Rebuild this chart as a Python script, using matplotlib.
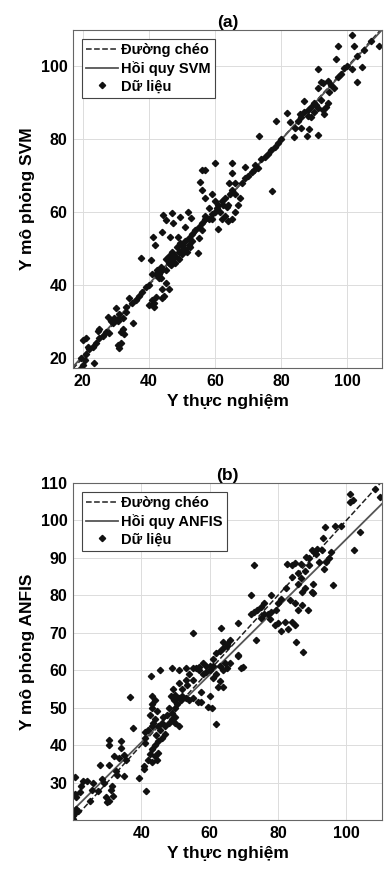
import matplotlib
matplotlib.use("Agg")
import matplotlib.pyplot as plt
import numpy as np

plt.rcParams["font.family"] = ["Liberation Sans", "DejaVu Sans"]
plt.rcParams["font.weight"] = "bold"

# panel (a): SVM
svm_pts = [
    (19.4, 17.2), (20, 18), (20.5, 19.5), (21, 21), (20, 25), (21.5, 23), (22, 22.5), (23.5, 18.7),
    (19.5, 20), (21, 25.4), (23, 23), (24, 24), (25, 25.5), (25, 28), (26, 26), (24.5, 27.5),
    (27, 27), (27.6, 31.3), (28, 26.8), (28.5, 30), (29, 29.5), (29.5, 31), (30, 30.5), (30.5, 30),
    (30, 33.7), (31, 32), (31, 31), (30.5, 23.5), (31, 22.7), (31.5, 24), (31.5, 27), (32, 28),
    (32.5, 26.5), (32, 31), (33, 32.7), (33, 34), (34.1, 36.3), (35.2, 29.6), (35, 35), (36, 36),
    (37, 37), (38, 38), (39, 39.5), (40, 40), (40, 34.5), (41, 36), (41.5, 35), (42, 36.7),
    (41.5, 34), (44, 36.5), (44.5, 37), (44, 39), (43.5, 42), (45, 40.5), (46, 39), (44, 44),
    (43, 43), (42, 43), (43, 42), (41, 43), (42.5, 44), (43.5, 45), (45, 44), (46, 46),
    (37.7, 47.3), (40.7, 46.8), (41.7, 51), (41.2, 53.2), (44, 54.6), (46.3, 53.2), (48.8, 53.2),
    (44.2, 59.2), (45.2, 57.8), (47.1, 59.8), (47.3, 57.1), (49.3, 58.7), (51.8, 60.1), (52.8, 58.3),
    (50.8, 56), (54.8, 48.7), (45, 47), (46, 48), (47, 47), (48, 48), (49, 49), (50, 49.5),
    (50, 51), (51, 50), (52, 51), (53, 52), (48, 46), (49, 47), (51, 52), (52, 53), (53, 54),
    (54, 55), (50, 48.5), (47, 49), (46.5, 45.5), (48.5, 50.5), (49.5, 51.5), (51.5, 49),
    (52.5, 50.5), (55, 56), (56, 57), (57, 58), (55, 53), (56, 55),
    (58, 58), (59, 59.5), (60, 60), (60.5, 61), (61, 62), (61.5, 60), (62, 63), (62.5, 62),
    (63, 64), (63.5, 61.5), (64, 62), (64.5, 65), (65, 66), (66, 65), (61, 55.5), (62, 58),
    (63, 59), (64, 57.5), (65, 58), (66, 60), (67, 62), (67.5, 64), (59, 58), (60, 63), (58, 61),
    (57, 59), (56, 66), (57, 64), (59, 65), (55.5, 68.3), (56, 71.5), (57, 71.5), (60, 73.4),
    (65, 73.4), (65, 70.7), (64.3, 68), (66, 68), (69, 72.3), (71.6, 71.5), (68, 68), (69, 69.5),
    (70, 70), (71, 71), (72, 73), (73, 72), (74, 74.5), (75, 75), (76, 76), (73.4, 80.8),
    (77.2, 65.7), (77, 77), (78, 78), (78.5, 85), (79, 79), (80, 80), (81.7, 87.2), (82.7, 84.7),
    (83.7, 80.6), (84, 83), (85, 85), (86, 83), (86, 86), (87, 87.5), (87.8, 80.8), (88, 88),
    (88.5, 82.7), (89, 89), (90, 90), (90, 87.5), (91, 88.5), (91, 81.2), (85.8, 87), (87, 90.5),
    (88, 86.5), (89, 86), (90.5, 89.5), (92, 90.7), (92.5, 88), (93, 87), (93.5, 89), (94, 90),
    (94.5, 93), (91, 94), (92, 95.6), (92.5, 95.4), (94, 96), (95, 95), (96, 94), (91.1, 99.4),
    (96.6, 102), (97.2, 105.5), (101.5, 108.5), (102, 105.5), (101.5, 99.3), (103, 95.7),
    (104.5, 99.8), (109.5, 105.7), (97, 97), (98, 98), (99, 99.5), (100, 100), (103, 103),
    (105, 104.5), (107, 107),
]

# panel (b): ANFIS
anfis_pts = [
    (20, 20.3), (20.5, 22), (21, 23), (21.5, 22.5), (20.3, 21.5), (20.5, 27), (20.5, 31.6), (21, 26),
    (22, 27.4), (22.5, 29), (23, 30.5), (24, 30.5), (25, 25), (25.5, 28), (26, 30), (27.3, 27.7),
    (27.8, 34.8), (28.5, 31), (29, 30), (29.8, 26), (30, 24.7), (30.5, 25), (30.5, 34.8), (31, 28),
    (31.5, 29), (31.7, 26.5), (30.6, 40), (30.6, 41.4), (32, 37), (32.5, 33), (33, 32),
    (33.5, 36.5), (34, 39.3), (34, 41), (35, 37.4), (35, 31.7), (35.6, 36), (36.8, 52.9),
    (37.5, 44.6), (39.4, 31.3), (40.8, 33.6), (40.8, 34.3), (41.5, 27.7), (41, 40.6), (41, 43.5),
    (41, 42), (42, 36), (42.5, 37.5), (43, 35.6), (44, 37), (44.5, 36), (45, 38), (44.4, 42.8),
    (42, 44), (43, 45), (43.5, 46), (44, 47), (42.5, 48), (43, 50), (43, 51), (42.7, 58.5),
    (45.4, 60), (43, 53), (44, 52), (44.5, 49), (45, 45), (45.5, 44), (46, 46), (46.5, 47.5),
    (47, 45), (47.5, 48), (48, 50), (48, 46), (49, 48.5), (49, 47), (50, 46), (50, 47.5), (51, 45),
    (49.5, 52), (48.8, 53), (50, 53.5), (51, 52.5), (51.5, 52), (52, 53), (53, 52.5), (54, 52),
    (55, 52.5), (56.7, 51.5), (49.4, 55), (51, 56.5), (53, 57.5), (55, 57.5), (57.5, 51.6),
    (57.5, 54.3), (59.5, 50.3), (60, 53), (60.6, 50), (61.8, 45.7), (49, 60.5), (51, 60),
    (53, 60.5), (55, 60.5), (57, 60.8), (58, 59), (59, 59.5), (60, 60), (61, 58), (62, 59), (63, 61),
    (64, 60), (64.5, 62), (65, 60.5), (62.5, 55.6), (64, 55.6), (63, 57), (61, 63), (62, 64.5),
    (63, 65), (64, 66), (65, 67), (66, 62), (68.4, 64), (69.8, 60.9), (55.2, 69.9), (63.4, 71.2),
    (64, 67.5), (65, 66.5), (66, 68), (68.4, 63.9), (69.3, 60.6), (68.4, 72.5), (73.6, 68),
    (72, 75), (73, 75.5), (74, 76), (75, 74), (76, 75), (77, 75), (78, 75.5), (79.5, 76),
    (77.7, 73.6), (79, 72), (80, 72.5), (81, 70.4), (82, 73), (85, 72), (83, 71), (84, 73),
    (85.3, 67.5), (87.4, 64.9), (83.6, 78.7), (85, 78), (86, 76), (87, 77.5), (88.8, 76),
    (82.4, 82), (85.8, 83), (87, 81), (88, 82), (90, 81), (90.3, 80.5), (90.3, 83), (73, 88),
    (82.7, 88.3), (84, 88.2), (85, 88.5), (86.8, 88.3), (86.8, 84.7), (88.2, 90.3), (89, 90),
    (90.6, 91.7), (91, 91), (90, 92), (91.5, 92.5), (93, 92), (93.5, 87), (94, 89), (95, 90),
    (95.5, 91.5), (96, 82.7), (93.2, 95.2), (93.7, 98.3), (96.6, 98.5), (98.5, 98.5), (101, 107),
    (101, 105), (102, 105.5), (102.3, 92), (104, 97), (108.3, 108.5), (109.8, 106.3), (78, 80),
    (80, 78), (76, 78), (72, 80), (75, 77), (81, 79), (84, 85), (86, 86), (88, 86.5), (89, 88),
    (92, 89), (58, 62), (59, 61), (60, 61), (61, 61), (57, 60), (56, 60.5), (54, 59), (53.5, 56),
    (52, 55), (50, 50), (50.5, 51), (46, 42), (47, 43), (45, 41), (44, 40), (43, 39),
]

# regression fits (slope, intercept)
svm_fit = (0.99, 0.7)
anfis_fit = (0.905, 4.5)

panels = [
    dict(pts=svm_pts, fit=svm_fit, name="SVM", title="(a)",
         xlim=(17, 110.5), ylim=(17.2, 110), xticks=[20, 40, 60, 80, 100],
         yticks=[20, 40, 60, 80, 100], rect=[0.188, 0.5794, 0.797, 0.3863]),
    dict(pts=anfis_pts, fit=anfis_fit, name="ANFIS", title="(b)",
         xlim=(20, 110.5), ylim=(20, 110), xticks=[40, 60, 80, 100],
         yticks=[30, 40, 50, 60, 70, 80, 90, 100, 110], rect=[0.188, 0.0629, 0.797, 0.3851]),
]

fig = plt.figure(figsize=(3.88, 8.75), dpi=100)

for p in panels:
    ax = fig.add_axes(p["rect"])
    x = np.array([q[0] for q in p["pts"]])
    y = np.array([q[1] for q in p["pts"]])
    xs = np.array(p["xlim"])
    a, b = p["fit"]
    ax.plot(xs, xs, "--", color="#222222", lw=1.1, label="Đường chéo")
    ax.plot(xs, a * xs + b, "-", color="#555555", lw=1.3, label="Hồi quy " + p["name"])
    ax.plot(x, y, "D", color="#111111", ms=3.2, ls="none", label="Dữ liệu")
    ax.set_xlim(*p["xlim"])
    ax.set_ylim(*p["ylim"])
    ax.set_xticks(p["xticks"])
    ax.set_yticks(p["yticks"])
    ax.grid(True, color="#dcdcdc", lw=0.7)
    ax.tick_params(labelsize=11.5, length=0, pad=4)
    for s in ax.spines.values():
        s.set_color("#666666")
        s.set_linewidth(0.8)
    ax.set_xlabel("Y thực nghiệm", fontsize=12.5, fontweight="bold", labelpad=4)
    ax.set_ylabel("Y mô phỏng " + p["name"], fontsize=12.5, fontweight="bold", labelpad=4)
    ax.set_title(p["title"], fontsize=12.5, fontweight="bold", pad=2)
    leg = ax.legend(loc="upper left", fontsize=10.5, handlelength=2.2, handletextpad=0.2,
                    borderpad=0.3, labelspacing=0.25, fancybox=False, framealpha=1,
                    edgecolor="#444444", borderaxespad=0.6)
    leg.get_frame().set_linewidth(0.8)

fig.savefig("out.png", dpi=100)
